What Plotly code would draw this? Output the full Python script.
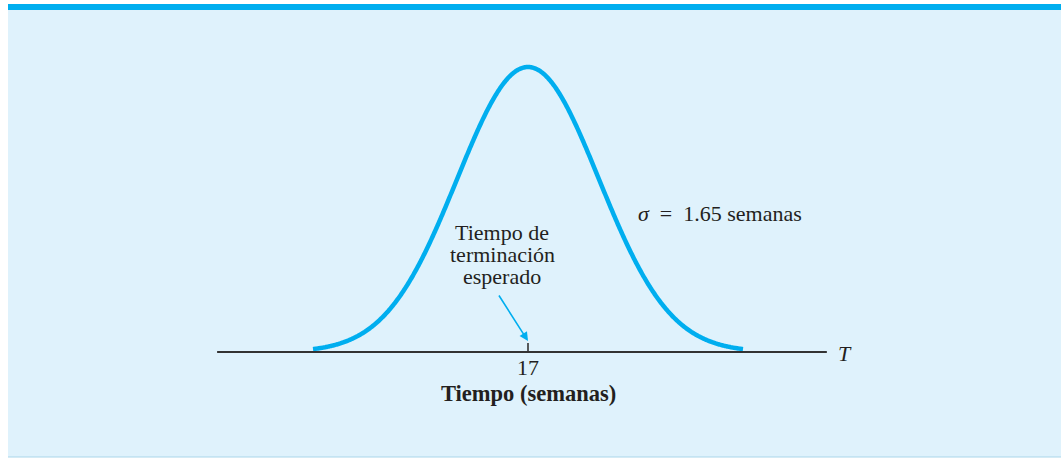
import numpy as np
import plotly.graph_objects as go

# ---- data ----
mean_weeks = 17.0
sigma_weeks = 1.65
curve_start, curve_end = 12.0, 22.0
axis_start, axis_end = 9.77, 23.95
tick_values = [17]
tick_labels = ["17"]
axis_title = "Tiempo (semanas)"
axis_var = "T"
sigma_label = "<i>σ</i>\u2002=\u20021.65 semanas"
note_lines = ["Tiempo de", "terminación", "esperado"]

W, H = 1061, 458
PX_PER_WEEK = 43.0
X0_PX = 528.0      # pixel of the mean
AXIS_PX = 352.0    # pixel row of the baseline
PEAK_H = 285.0     # pixel height of the peak

def xd(px):
    return mean_weeks + (px - X0_PX) / PX_PER_WEEK

def yd(py):
    return (AXIS_PX - py) / PEAK_H

xs = np.linspace(curve_start, curve_end, 600)
ys = np.exp(-0.5 * ((xs - mean_weeks) / sigma_weeks) ** 2)

BLUE = "#00aeef"
BG = "#dff2fc"
INK = "#231f20"
FONT = "Liberation Serif"

fig = go.Figure()
fig.add_trace(go.Scatter(x=xs, y=ys, mode="lines",
                         line=dict(color=BLUE, width=4.5, simplify=False),
                         hoverinfo="skip"))

shapes = [
    dict(type="rect", xref="paper", yref="paper", x0=8 / W, x1=1, y0=1 - 457 / H, y1=1 - 4 / H,
         fillcolor=BG, line=dict(width=0), layer="below"),
    dict(type="rect", xref="paper", yref="paper", x0=8 / W, x1=1, y0=1 - 10 / H, y1=1 - 4 / H,
         fillcolor=BLUE, line=dict(width=0), layer="below"),
    dict(type="line", xref="paper", yref="paper", x0=8 / W, x1=1, y0=1 - 457 / H, y1=1 - 457 / H,
         line=dict(color="#a9d6ea", width=1.2), layer="below"),
    dict(type="line", xref="x", yref="y", x0=axis_start, x1=axis_end, y0=0, y1=0,
         line=dict(color="#333333", width=2.2)),
]
for tv in tick_values:
    shapes.append(dict(type="line", xref="x", yref="y", x0=tv, x1=tv, y0=0, y1=9 / PEAK_H,
                       line=dict(color="#333333", width=1.6)))

annotations = []
for tv, tl in zip(tick_values, tick_labels):
    annotations.append(dict(x=tv, y=yd(367), text=tl, showarrow=False,
                            font=dict(family=FONT, size=22, color=INK)))
annotations.append(dict(x=mean_weeks, y=yd(393), text="<b>" + axis_title + "</b>", showarrow=False,
                        font=dict(family=FONT, size=22.5, color=INK)))
annotations.append(dict(x=xd(845), y=yd(353), text="<i>" + axis_var + "</i>", showarrow=False,
                        font=dict(family=FONT, size=22, color=INK)))
annotations.append(dict(x=xd(636), y=yd(213), text=sigma_label, showarrow=False, xanchor="left",
                        font=dict(family=FONT, size=22, color=INK)))
for line_txt, py in zip(note_lines, [232, 254, 276]):
    annotations.append(dict(x=xd(502), y=yd(py), text=line_txt, showarrow=False,
                            font=dict(family=FONT, size=22, color=INK)))
annotations.append(dict(x=mean_weeks, y=yd(341), ax=-30, ay=-47, text="", showarrow=True,
                        arrowhead=2, arrowsize=1.1, arrowwidth=1.6, arrowcolor=BLUE,
                        xref="x", yref="y", axref="pixel", ayref="pixel"))

fig.update_layout(
    width=W, height=H,
    margin=dict(l=0, r=0, t=0, b=0),
    paper_bgcolor="white", plot_bgcolor="rgba(0,0,0,0)",
    showlegend=False,
    xaxis=dict(range=[xd(0), xd(W)], visible=False, fixedrange=True),
    yaxis=dict(range=[yd(H), yd(0)], visible=False, fixedrange=True),
    shapes=shapes, annotations=annotations,
)

fig.write_html("out.html", config={"displayModeBar": False},
               post_script="document.body.style.margin='0';document.body.style.overflow='hidden';")
